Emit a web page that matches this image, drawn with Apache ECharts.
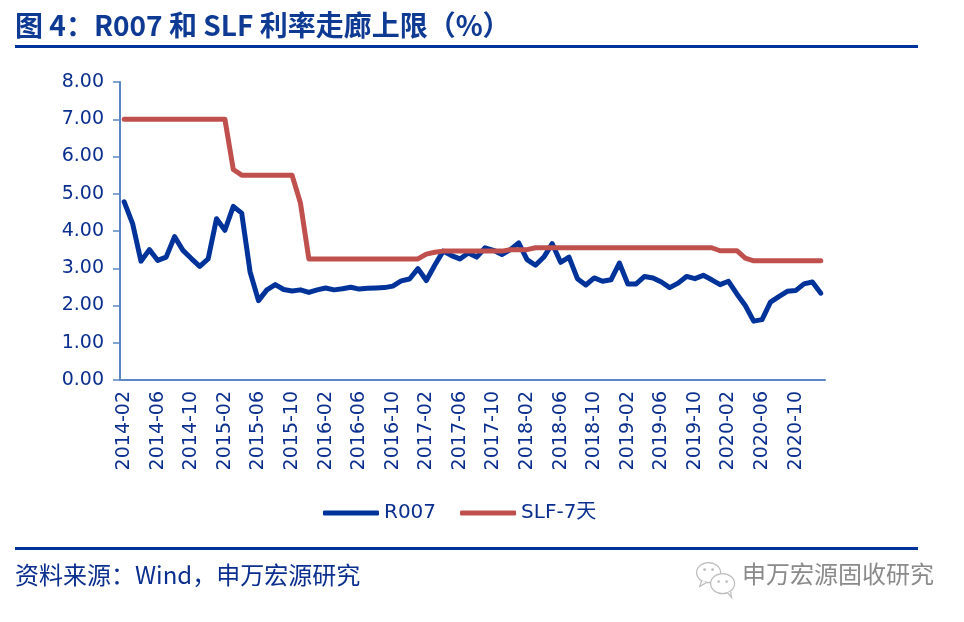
<!DOCTYPE html>
<html>
<head>
<meta charset="utf-8">
<script src="https://cdn.jsdelivr.net/npm/echarts@6/dist/echarts.min.js"></script>
<style>
  html, body { margin: 0; padding: 0; background: #fff; }
  #chart { width: 964px; height: 622px; }
</style>
</head>
<body>
<div id="chart"></div>
<script>
// 月份: 2014-02 ~ 2021-01
var months = [];
for (var y = 2014, m = 2; months.length < 84; m++) {
    if (m > 12) { m = 1; y++; }
    months.push(y + '-' + (m < 10 ? '0' + m : m));
}

// R007 (%)
var r007 = [
    4.78, 4.20, 3.19, 3.50, 3.21, 3.30, 3.85, 3.48, 3.26, 3.05, 3.25, 4.33,
    4.02, 4.66, 4.48, 2.90, 2.13, 2.42, 2.56, 2.43, 2.39, 2.42, 2.35, 2.42,
    2.47, 2.42, 2.45, 2.49, 2.44, 2.46, 2.47, 2.48, 2.52, 2.66, 2.71, 2.99,
    2.67, 3.08, 3.46, 3.34, 3.25, 3.41, 3.30, 3.55, 3.48, 3.37, 3.50, 3.68,
    3.23, 3.08, 3.30, 3.66, 3.16, 3.30, 2.72, 2.55, 2.74, 2.65, 2.69, 3.14,
    2.58, 2.58, 2.78, 2.74, 2.63, 2.48, 2.60, 2.78, 2.72, 2.81, 2.69, 2.56,
    2.65, 2.31, 2.00, 1.58, 1.62, 2.09, 2.24, 2.38, 2.40, 2.58, 2.63, 2.33
];

// SLF-7天 (%)
var slf7 = [
    7.00, 7.00, 7.00, 7.00, 7.00, 7.00, 7.00, 7.00, 7.00, 7.00, 7.00, 7.00,
    7.00, 5.65, 5.50, 5.50, 5.50, 5.50, 5.50, 5.50, 5.50, 4.75, 3.25, 3.25,
    3.25, 3.25, 3.25, 3.25, 3.25, 3.25, 3.25, 3.25, 3.25, 3.25, 3.25, 3.25,
    3.38, 3.43, 3.46, 3.46, 3.46, 3.46, 3.46, 3.46, 3.46, 3.46, 3.50, 3.50,
    3.50, 3.55, 3.55, 3.55, 3.55, 3.55, 3.55, 3.55, 3.55, 3.55, 3.55, 3.55,
    3.55, 3.55, 3.55, 3.55, 3.55, 3.55, 3.55, 3.55, 3.55, 3.55, 3.55, 3.47,
    3.47, 3.47, 3.27, 3.20, 3.20, 3.20, 3.20, 3.20, 3.20, 3.20, 3.20, 3.20
];

var seriesNames = ['R007', 'SLF-7天'];

var myChart = echarts.init(document.getElementById('chart'));

var blue = '#00339A';
var red = '#C0504D';
var txt = '#0B2F8E';
var axisColor = '#5B87C5';
var latin = "'DejaVu Sans', 'Noto Sans CJK SC', sans-serif";

var option = {
    backgroundColor: '#fff',
    animation: false,
    grid: { left: 120, right: 139, top: 82, bottom: 242, containLabel: false },
    legend: {
        left: 318,
        top: 498,
        itemWidth: 56,
        itemHeight: 5,
        itemGap: 24,
        icon: 'roundRect',
        textStyle: { color: txt, fontSize: 20, fontFamily: latin },
        data: seriesNames
    },
    xAxis: {
        type: 'category',
        data: months,
        boundaryGap: true,
        axisLine: { lineStyle: { color: axisColor, width: 2 } },
        axisTick: { interval: 3, length: 6, lineStyle: { color: axisColor, width: 1.5 } },
        axisLabel: {
            interval: 3, rotate: 90, margin: 11,
            color: txt, fontSize: 19, fontFamily: latin
        },
        splitLine: { show: false }
    },
    yAxis: {
        type: 'value',
        min: 0, max: 8, interval: 1,
        axisLine: { show: true, lineStyle: { color: axisColor, width: 2 } },
        axisTick: { show: true, length: 7, lineStyle: { color: axisColor, width: 1.5 } },
        axisLabel: {
            margin: 16, color: txt, fontSize: 19, fontFamily: latin,
            formatter: function (v) { return v.toFixed(2); }
        },
        splitLine: { show: false }
    },
    series: [
        {
            name: seriesNames[0], type: 'line', data: r007,
            symbol: 'none', color: blue,
            lineStyle: { color: blue, width: 5, join: 'round', cap: 'round' }
        },
        {
            name: seriesNames[1], type: 'line', data: slf7,
            symbol: 'none', color: red,
            lineStyle: { color: red, width: 5, join: 'round', cap: 'round' }
        }
    ],
    graphic: [
        {
            type: 'text', left: 15, top: 11,
            style: {
                text: '图 4：R007 和 SLF 利率走廊上限（%）',
                fill: '#0F3A94',
                font: "bold 28px 'Noto Sans CJK SC', sans-serif"
            }
        },
        { type: 'rect', shape: { x: 15, y: 45, width: 903, height: 3 }, style: { fill: '#003399' } },
        { type: 'rect', shape: { x: 15, y: 547, width: 903, height: 3 }, style: { fill: '#003399' } },
        {
            type: 'text', left: 15, top: 563,
            style: {
                text: '资料来源：Wind，申万宏源研究',
                fill: txt,
                font: "24px 'Noto Sans CJK SC', sans-serif"
            }
        },
        {
            type: 'text', left: 742, top: 562,
            style: {
                text: '申万宏源固收研究',
                fill: '#8a8a8a',
                font: "24px 'Noto Sans CJK SC', sans-serif"
            }
        },
        // 微信图标
        {
            type: 'group', left: 696, top: 562,
            children: [
                { type: 'ellipse', shape: { cx: 12, cy: 11, rx: 12, ry: 10 }, style: { fill: '#fff', stroke: '#bdbdbd', lineWidth: 1.2 } },
                { type: 'ellipse', shape: { cx: 26, cy: 22, rx: 12, ry: 10 }, style: { fill: '#fff', stroke: '#bdbdbd', lineWidth: 1.2 } },
                { type: 'circle', shape: { cx: 8, cy: 8, r: 1.4 }, style: { fill: '#bdbdbd' } },
                { type: 'circle', shape: { cx: 16, cy: 8, r: 1.4 }, style: { fill: '#bdbdbd' } },
                { type: 'circle', shape: { cx: 22, cy: 20, r: 1.3 }, style: { fill: '#bdbdbd' } },
                { type: 'circle', shape: { cx: 30, cy: 20, r: 1.3 }, style: { fill: '#bdbdbd' } },
                { type: 'polyline', shape: { points: [[5, 19], [3, 25], [10, 21]] }, style: { stroke: '#bdbdbd', fill: '#fff', lineWidth: 1.2 } },
                { type: 'polyline', shape: { points: [[31, 31], [35, 36], [34, 30]] }, style: { stroke: '#bdbdbd', fill: '#fff', lineWidth: 1.2 } }
            ]
        }
    ]
};

myChart.setOption(option);
</script>
</body>
</html>
